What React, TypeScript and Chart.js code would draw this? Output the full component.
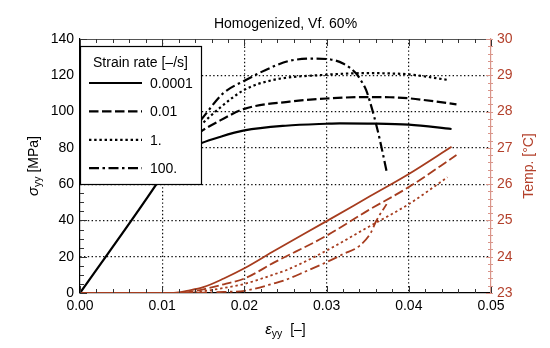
import React, { useEffect, useRef } from 'react';
import { Chart, registerables } from 'chart.js';

Chart.register(...registerables);

// ---- data ----
const chartTitle = 'Homogenized, Vf. 60%';
const legendTitle = 'Strain rate [–/s]';
const strainRates = ['0.0001', '0.01', '1.', '100.'];

const xTickLabels = ['0.00', '0.01', '0.02', '0.03', '0.04', '0.05'];
const yTickLabels = ['0', '20', '40', '60', '80', '100', '120', '140'];
const y1TickLabels = ['23', '24', '25', '26', '27', '28', '29', '30'];

// stress [MPa] vs strain
const strainS1 = [0, 0.0093, 0.011, 0.0125, 0.0147, 0.017, 0.02, 0.025, 0.03, 0.0316, 0.035, 0.04, 0.0452];
const stressS1 = [0, 60, 72, 78, 82.5, 86, 89.6, 92.2, 93.3, 93.5, 93.4, 92.8, 90.4];

const strainS2 = [0.0093, 0.0115, 0.013, 0.0147, 0.017, 0.02, 0.0255, 0.03, 0.035, 0.0377, 0.04, 0.0458];
const stressS2 = [60, 75, 83, 89, 95, 101.5, 105.5, 107.2, 108, 107.9, 107.3, 104];

const strainS3 = [0.0093, 0.0115, 0.013, 0.0147, 0.017, 0.02, 0.0235, 0.0296, 0.035, 0.0377, 0.04, 0.0448];
const stressS3 = [60, 76, 85, 92.6, 102, 112, 117.4, 120.2, 121.2, 121, 120.5, 117.4];

const strainS4 = [0.0093, 0.0115, 0.013, 0.0147, 0.0174, 0.02, 0.0235, 0.0255, 0.0285, 0.0305, 0.032, 0.0336, 0.0342, 0.0348, 0.0353, 0.0358, 0.0365, 0.0373];
const stressS4 = [60, 77, 87, 95.4, 110, 117, 124.8, 128, 129.2, 128.7, 126.5, 121, 117, 112, 105, 97, 84, 67];

// temperature [°C] vs strain
const strainT1 = [0, 0.011, 0.012, 0.013, 0.015, 0.0175, 0.02, 0.0237, 0.03, 0.035, 0.04, 0.0452];
const tempT1 = [23, 23, 23.02, 23.06, 23.16, 23.4, 23.68, 24.17, 24.98, 25.63, 26.28, 27.03];

const strainT2 = [0, 0.012, 0.013, 0.015, 0.0175, 0.02, 0.0237, 0.03, 0.035, 0.04, 0.0458];
const tempT2 = [23, 23, 23.02, 23.1, 23.24, 23.4, 23.85, 24.58, 25.27, 25.92, 26.8];

const strainT3 = [0, 0.0125, 0.015, 0.0175, 0.02, 0.0237, 0.025, 0.03, 0.035, 0.04, 0.0447];
const tempT3 = [23, 23, 23.05, 23.14, 23.25, 23.52, 23.62, 24.17, 24.81, 25.45, 26.19];

const strainT4 = [0, 0.013, 0.015, 0.0175, 0.02, 0.0237, 0.025, 0.0275, 0.03, 0.032, 0.034, 0.0354, 0.036, 0.0373];
const tempT4 = [23, 23, 23.01, 23.03, 23.06, 23.27, 23.36, 23.6, 23.85, 24.07, 24.3, 24.67, 24.97, 25.45];

// ---- styles ----
const FONT = '"Liberation Sans", Arial, Helvetica, sans-serif';
const BLACK = '#000000';
const TEMP_COLOR = '#a63c1e';
const RIGHT_AXIS_TEXT = '#b3402b';
const RIGHT_AXIS_LINE = '#d9958a';
const dashes: number[][] = [[], [9.5, 3.5], [2.4, 2.8], [10, 3.5, 2.5, 3.5]];

const toXY = (xs: number[], ys: number[]) => xs.map((x, i) => ({ x, y: ys[i] }));

const decorPlugin = {
  id: 'decor',
  afterDatasetsDraw(chart: any) {
    const { ctx, chartArea: a, scales } = chart;
    const sx = scales.x, sy = scales.y, sy1 = scales.y1;
    ctx.save();
    // top frame
    ctx.strokeStyle = '#555';
    ctx.lineWidth = 1;
    ctx.setLineDash([]);
    ctx.beginPath();
    ctx.moveTo(a.left, a.top + 0.5);
    ctx.lineTo(a.right, a.top + 0.5);
    ctx.stroke();

    // inward ticks x (bottom and top)
    ctx.strokeStyle = '#333';
    ctx.beginPath();
    for (let i = 0; i <= 25; i++) {
      const v = i * 0.002;
      const px = Math.round(sx.getPixelForValue(v)) + 0.5;
      const len = i % 5 === 0 ? 7 : 4;
      ctx.moveTo(px, a.bottom);
      ctx.lineTo(px, a.bottom - len);
      ctx.moveTo(px, a.top);
      ctx.lineTo(px, a.top + len);
    }
    // left ticks
    for (let i = 0; i <= 28; i++) {
      const v = i * 5;
      const py = Math.round(sy.getPixelForValue(v)) + 0.5;
      const len = i % 4 === 0 ? 7 : 4;
      ctx.moveTo(a.left, py);
      ctx.lineTo(a.left + len, py);
    }
    ctx.stroke();
    // right ticks
    ctx.strokeStyle = RIGHT_AXIS_LINE;
    ctx.beginPath();
    for (let i = 0; i <= 35; i++) {
      const v = 23 + i * 0.2;
      const py = Math.round(sy1.getPixelForValue(v)) + 0.5;
      const len = i % 5 === 0 ? 5 : 3;
      ctx.moveTo(a.right - len, py);
      ctx.lineTo(a.right + 2, py);
    }
    ctx.stroke();

    // legend box
    const lx = a.left, ly = 46, lw = 121, lh = 138;
    ctx.fillStyle = '#ffffff';
    ctx.fillRect(lx, ly, lw, lh);
    ctx.strokeStyle = '#000';
    ctx.lineWidth = 1.2;
    ctx.strokeRect(lx + 0.5, ly + 0.5, lw, lh);
    ctx.fillStyle = '#000';
    ctx.font = `14px ${FONT}`;
    ctx.textAlign = 'left';
    ctx.textBaseline = 'alphabetic';
    ctx.fillText(legendTitle, lx + 13, ly + 21);
    strainRates.forEach((lab, i) => {
      const yy = ly + 37 + i * 28.4;
      ctx.beginPath();
      ctx.lineWidth = 2.2;
      ctx.setLineDash(dashes[i]);
      ctx.moveTo(lx + 9, yy);
      ctx.lineTo(lx + 62, yy);
      ctx.stroke();
      ctx.setLineDash([]);
      ctx.fillText(lab, lx + 70, yy + 5);
    });

    // chart title
    ctx.textAlign = 'center';
    ctx.font = `14px ${FONT}`;
    ctx.fillText(chartTitle, (a.left + a.right) / 2, 28);

    // x axis title: ε_yy [–]
    const cx = (a.left + a.right) / 2;
    ctx.textAlign = 'left';
    const partsX = [
      { t: 'ε', f: `italic 15px ${FONT}`, dy: 0 },
      { t: 'yy', f: `10.5px ${FONT}`, dy: 3 },
      { t: '  [–]', f: `14px ${FONT}`, dy: 0 },
    ];
    let total = 0;
    partsX.forEach((p) => { ctx.font = p.f; total += ctx.measureText(p.t).width; });
    let xx = cx - total / 2;
    partsX.forEach((p) => { ctx.font = p.f; ctx.fillText(p.t, xx, 334 + p.dy); xx += ctx.measureText(p.t).width; });

    // y axis title: σ_yy [MPa] rotated
    const partsY = [
      { t: 'σ', f: `italic 15px ${FONT}`, dy: 0 },
      { t: 'yy', f: `10.5px ${FONT}`, dy: 3 },
      { t: ' [MPa]', f: `14px ${FONT}`, dy: 0 },
    ];
    ctx.save();
    ctx.translate(38, (a.top + a.bottom) / 2);
    ctx.rotate(-Math.PI / 2);
    total = 0;
    partsY.forEach((p) => { ctx.font = p.f; total += ctx.measureText(p.t).width; });
    xx = -total / 2;
    partsY.forEach((p) => { ctx.font = p.f; ctx.fillText(p.t, xx, p.dy); xx += ctx.measureText(p.t).width; });
    ctx.restore();

    // right axis title
    ctx.save();
    ctx.translate(533, (a.top + a.bottom) / 2);
    ctx.rotate(-Math.PI / 2);
    ctx.fillStyle = RIGHT_AXIS_TEXT;
    ctx.font = `14px ${FONT}`;
    ctx.textAlign = 'center';
    ctx.fillText('Temp. [°C]', 0, 0);
    ctx.restore();

    ctx.restore();
  },
};

const edgeTransparent = (edges: number[]) => (c: any) => {
  const v = c.tick ? c.tick.value : null;
  if (v === null) return '#000';
  return edges.some((e) => Math.abs(v - e) < 1e-9) ? 'rgba(0,0,0,0)' : '#111';
};

export default function App() {
  const ref = useRef<HTMLCanvasElement | null>(null);
  useEffect(() => {
    document.body.style.margin = '0';
    const canvas = ref.current!;
    const stress = [toXY(strainS1, stressS1), toXY(strainS2, stressS2), toXY(strainS3, stressS3), toXY(strainS4, stressS4)];
    const temp = [toXY(strainT1, tempT1), toXY(strainT2, tempT2), toXY(strainT3, tempT3), toXY(strainT4, tempT4)];
    const datasets: any[] = [];
    temp.forEach((d, i) => datasets.push({
      label: 'T ' + strainRates[i], data: d, yAxisID: 'y1', borderColor: TEMP_COLOR, borderWidth: 1.8,
      borderDash: dashes[i], pointRadius: 0, cubicInterpolationMode: 'monotone', fill: false,
    }));
    stress.forEach((d, i) => datasets.push({
      label: strainRates[i], data: d, yAxisID: 'y', borderColor: BLACK, borderWidth: 2.2,
      borderDash: dashes[i], pointRadius: 0, cubicInterpolationMode: 'monotone', fill: false,
    }));
    const tickFont = { family: FONT, size: 14 };
    const chart = new Chart(canvas, {
      type: 'line',
      data: { datasets },
      options: {
        animation: false,
        responsive: false,
        devicePixelRatio: 1,
        layout: { padding: { top: 39, left: 0, right: 0, bottom: 0 } },
        plugins: { legend: { display: false }, title: { display: false }, tooltip: { enabled: false } },
        scales: {
          x: {
            type: 'linear', min: 0, max: 0.05,
            ticks: { stepSize: 0.01, font: tickFont, color: '#000', padding: 5,
              callback: (_v: any, i: number) => xTickLabels[i] },
            grid: { color: edgeTransparent([0, 0.05]), drawTicks: false, lineWidth: 1.2 },
            border: { dash: [1.4, 2.4], color: '#000', width: 1.2 },
            afterFit: (s: any) => { s.height = 55; },
          },
          y: {
            type: 'linear', position: 'left', min: 0, max: 140,
            ticks: { stepSize: 20, font: tickFont, color: '#000', padding: 6,
              callback: (_v: any, i: number) => yTickLabels[i] },
            grid: { color: edgeTransparent([0, 140]), drawTicks: false, lineWidth: 1.2 },
            border: { dash: [1.4, 2.4], color: '#000', width: 1.2 },
            afterFit: (s: any) => { s.width = 80; },
          },
          y1: {
            type: 'linear', position: 'right', min: 23, max: 30,
            ticks: { stepSize: 1, font: tickFont, color: RIGHT_AXIS_TEXT, padding: 6,
              callback: (_v: any, i: number) => y1TickLabels[i] },
            grid: { display: false, drawTicks: false },
            border: { color: RIGHT_AXIS_LINE, width: 1.2 },
            afterFit: (s: any) => { s.width = 59; },
          },
        },
      } as any,
      plugins: [decorPlugin],
    });
    return () => chart.destroy();
  }, []);
  return <canvas ref={ref} width={550} height={348} style={{ display: 'block' }} />;
}
